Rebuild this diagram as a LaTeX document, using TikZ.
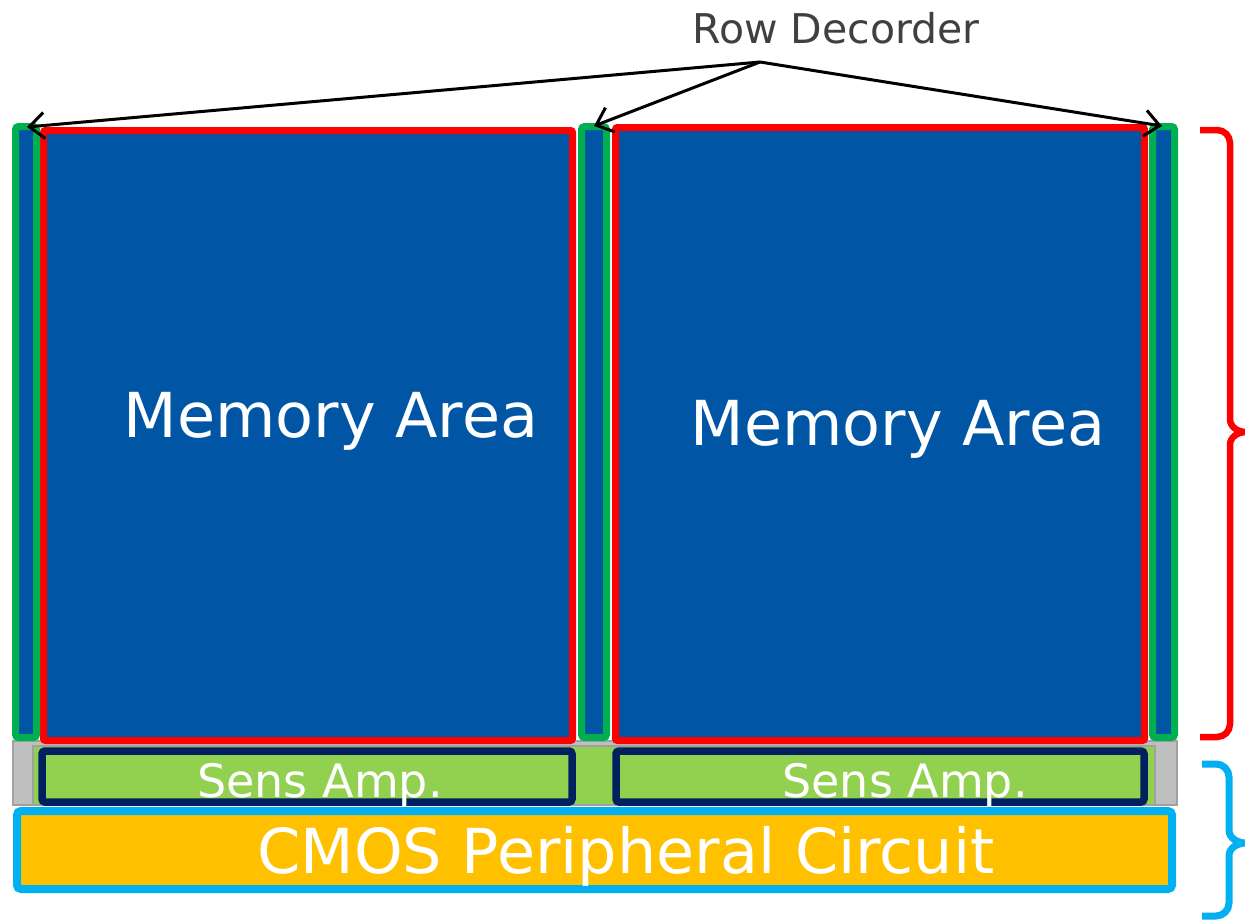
\documentclass[tikz,border=0pt]{standalone}
\usepackage{fontspec}
\newfontfamily\dv{DejaVu Sans}
\usetikzlibrary{arrows.meta}
\definecolor{memblue}{HTML}{0055A5}
\definecolor{rdgreen}{HTML}{00B050}
\definecolor{memred}{HTML}{FF0000}
\definecolor{sagreen}{HTML}{92D050}
\definecolor{navy}{HTML}{002060}
\definecolor{orng}{HTML}{FFC000}
\definecolor{cyanb}{HTML}{00B0F0}
\definecolor{gfill}{HTML}{BFBFBF}
\definecolor{gline}{HTML}{A0A0A0}
\definecolor{txtgray}{HTML}{404040}
\begin{document}
\begin{tikzpicture}[x=1pt,y=-1pt,
  box/.style={rectangle,inner sep=0pt,outer sep=0pt},
  rowdec/.style={box,draw=rdgreen,line width=7pt,fill=memblue,rounded corners=3pt},
  memarea/.style={box,draw=memred,line width=7pt,fill=memblue,rounded corners=2pt},
  graystrip/.style={box,draw=gline,line width=2pt,fill=gfill},
  sabase/.style={box,draw=gline,line width=2pt,fill=sagreen},
  sensamp/.style={box,draw=navy,line width=7.5pt,fill=sagreen,rounded corners=3pt},
  cmos/.style={box,draw=cyanb,line width=8pt,fill=orng,rounded corners=4pt},
  whitetxt/.style={text=white,inner sep=0pt,anchor=base},
  pointer/.style={line width=3pt,-{Straight Barb[length=15pt,width=26pt,line width=3pt]}},
  brace/.style={line width=6.5pt}
]
\useasboundingbox (0,0) rectangle (1245,922);
% bottom strips
\node[graystrip,minimum width=1164pt,minimum height=64pt] (gs) at (595,773) {};
\node[sabase,minimum width=1122pt,minimum height=59pt] (sab) at (594,775.5) {};
\node[sensamp,minimum width=530pt,minimum height=51pt] (saL) at (307,776.5) {};
\node[sensamp,minimum width=528pt,minimum height=51pt] (saR) at (880,776.5) {};
\node[cmos,minimum width=1155pt,minimum height=78pt] (cm) at (594.5,850) {};
% memory areas
\node[memarea,minimum width=529pt,minimum height=610pt] (maL) at (308,435.5) {};
\node[memarea,minimum width=529pt,minimum height=613pt] (maR) at (880,434) {};
% row decoders
\node[rowdec,minimum width=21pt,minimum height=611pt] (rdL) at (26,432) {};
\node[rowdec,minimum width=25pt,minimum height=611pt] (rdM) at (594,432) {};
\node[rowdec,minimum width=22pt,minimum height=611pt] (rdR) at (1163.5,432) {};
% texts
\node[whitetxt,font={\dv\fontsize{62}{62}\selectfont}] (tL) at (331,437) {Memory Area};
\node[whitetxt,font={\dv\fontsize{62}{62}\selectfont}] (tR) at (898,445) {Memory Area};
\node[whitetxt,font={\dv\fontsize{46}{46}\selectfont}] (sL) at (320,797) {Sens Amp.};
\node[whitetxt,font={\dv\fontsize{46}{46}\selectfont}] (sR) at (905,797) {Sens Amp.};
\node[whitetxt,font={\dv\fontsize{62}{62}\selectfont}] (ct) at (626,873) {CMOS Peripheral Circuit};
\node[text=txtgray,inner sep=0pt,anchor=base,font={\dv\fontsize{41}{41}\selectfont}] (rdt) at (836,43) {Row Decorder};
% pointers
\coordinate (apex) at (760,62);
\coordinate (pL) at (27,127);
\coordinate (pM) at (594,126);
\coordinate (pR) at (1162,126);
\draw[pointer] (apex) -- (pL);
\draw[pointer] (apex) -- (pM);
\draw[pointer] (apex) -- (pR);
% braces
\draw[brace,draw=memred] (1200,130) -- (1217,130) to[out=0,in=90] (1230,143) -- (1230,419)
  to[out=-90,in=180] (1246,432) to[out=180,in=90] (1230,445) -- (1230,724)
  to[out=-90,in=0] (1217,737) -- (1200,737);
\draw[brace,draw=cyanb,line width=7pt] (1202,764) -- (1216,764) to[out=0,in=90] (1229,777) -- (1229,830)
  to[out=-90,in=180] (1246,843) to[out=180,in=90] (1229,856) -- (1229,903)
  to[out=-90,in=0] (1216,916) -- (1202,916);
\end{tikzpicture}
\end{document}
